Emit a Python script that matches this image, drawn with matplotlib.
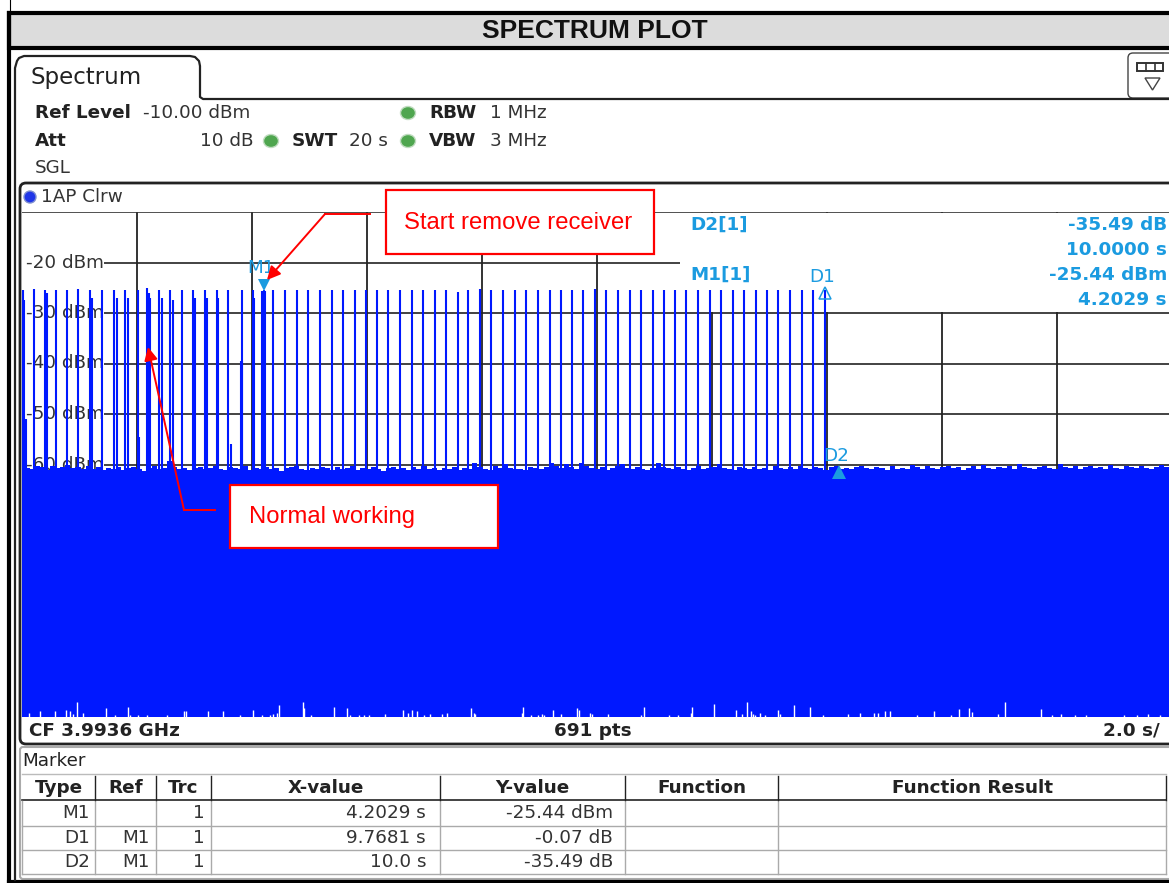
import matplotlib
matplotlib.use('Agg')
import matplotlib.pyplot as plt
from matplotlib.patches import Rectangle, FancyBboxPatch, Polygon, Circle, Ellipse

# spike times (s)
spike_times = [0.01, 0.21, 0.40, 0.59, 0.79, 0.98, 1.18, 1.39, 1.60, 1.79, 2.01, 2.18, 2.39, 2.57, 2.79, 2.98,
               3.18, 3.39, 3.59, 3.82, 4.01, 4.20, 4.37, 4.57, 4.78, 4.98, 5.18, 5.39, 5.58, 5.79, 5.99, 6.17,
               6.37, 6.57, 6.78, 6.97, 7.18, 7.37, 7.58, 7.76, 7.97, 8.16, 8.37, 8.57, 8.77, 8.97, 9.18, 9.38,
               9.56, 9.76, 9.97, 10.16, 10.37, 10.57, 10.77, 10.97, 11.17, 11.36, 11.55, 11.76, 11.96, 12.16,
               12.36, 12.56, 12.76, 12.96, 13.15, 13.35, 13.56, 13.76, 13.97]
spike_tops = [-25.4, -25.3, -25.5, -25.4, -25.4, -25.3, -25.4, -25.4, -25.4, -25.5, -25.4, -25.1, -25.4, -25.5,
              -25.4, -25.4, -25.4, -25.4, -25.5, -25.4, -25.4, -25.44, -25.4, -25.4, -25.4, -25.4, -25.4, -25.4,
              -25.5, -25.4, -25.4, -25.5, -25.4, -25.4, -25.4, -25.4, -25.4, -25.4, -25.9, -25.4, -25.3, -25.4,
              -25.4, -25.4, -25.5, -25.4, -25.4, -25.4, -25.4, -25.4, -25.3, -25.4, -25.4, -25.4, -25.4, -25.4,
              -25.4, -25.4, -25.4, -25.4, -25.4, -25.4, -25.4, -25.4, -25.4, -25.4, -25.4, -25.4, -25.4, -25.4,
              -25.51]
# shorter lines sitting next to the main spikes
extra_times = [0.03, 0.07, 0.43, 1.22, 1.65, 1.84, 2.04, 2.20, 2.23, 2.43, 2.63, 3.01, 3.22, 3.41, 3.63, 3.80,
               3.83, 4.03, 4.18, 4.23]
extra_tops = [-27.5, -51.0, -26.0, -27.0, -27.0, -27.0, -54.5, -26.0, -27.0, -27.0, -27.5, -27.0, -27.0, -27.0,
              -56.0, -39.5, -39.5, -27.0, -25.6, -25.6]

# top of the noise band, one value per 0.087 s
floor_top = [-60.0, -60.6, -60.9, -60.2, -60.4, -61.0, -60.3, -60.7, -60.5, -60.1, -60.6, -60.4, -60.8, -60.2,
             -60.9, -60.5, -61.1, -60.6, -60.8, -60.4, -61.0, -60.7, -60.5, -60.9, -61.2, -60.6, -60.3, -60.8,
             -60.7, -59.3, -60.5, -60.9, -60.6, -61.1, -60.7, -60.4, -60.9, -60.6, -60.2, -60.8, -61.0, -60.5,
             -60.7, -60.9, -60.3, -61.0, -60.6, -60.8, -60.4, -60.9, -60.6, -61.2, -60.7, -60.5, -60.2, -60.8,
             -61.0, -60.6, -60.9, -60.4, -60.7, -61.1, -60.5, -60.8, -60.6, -60.3, -61.0, -60.7, -60.9, -60.5,
             -60.8, -61.2, -60.6, -60.4, -60.9, -60.7, -61.0, -60.5, -60.8, -60.3, -60.9, -60.6, -61.1, -60.7,
             -60.8, -60.4, -61.0, -60.6, -60.9, -59.8, -60.5, -60.8, -61.0, -60.2, -60.7, -59.9, -60.6, -60.9,
             -60.8, -61.1, -60.4, -60.7, -60.9, -60.5, -59.8, -60.3, -60.7, -59.9, -60.4, -60.8, -59.7, -60.3,
             -60.6, -60.9, -60.5, -61.0, -60.7, -60.3, -59.9, -60.6, -60.8, -60.4, -60.9, -61.1, -60.6, -59.8,
             -60.4, -60.7, -60.9, -60.5, -60.8, -61.0, -60.6, -60.3, -60.9, -60.7, -60.4, -59.9, -60.6, -60.8,
             -61.0, -60.5, -60.7, -60.9, -60.4, -60.8, -60.6, -61.1, -60.3, -60.7, -60.9, -60.5, -60.8, -60.2,
             -60.6, -60.9, -60.4, -60.7, -61.0, -60.5, -60.3, -60.8, -60.6, -60.9, -60.5, -60.2, -60.7, -60.9,
             -60.4, -60.6, -61.0, -60.3, -60.8, -60.6, -60.9, -60.1, -60.5, -60.8, -60.3, -60.7, -60.9, -60.4,
             -60.2, -60.7, -60.5, -61.0, -60.6, -60.3, -60.8, -60.1, -60.6, -60.9, -60.4, -60.7, -60.2, -60.8,
             -59.9, -60.5, -60.7, -60.9, -60.4, -60.3, -60.6, -60.8, -59.9, -60.5, -60.7, -60.3, -60.9, -60.5,
             -60.2, -60.7, -60.4, -60.8, -60.1, -60.6, -60.9, -60.3, -60.5, -60.7, -60.2, -60.6, -60.8, -60.4,
             -60.1, -60.5, -60.7]
floor_x = [i * 20.0 / (len(floor_top) - 1) for i in range(len(floor_top))]

# white slivers at the bottom of the band: time (s), height above the -110 line (dB)
gap_times = [0.12, 0.32, 0.57, 0.76, 0.83, 0.89, 0.96, 1.06, 1.46, 1.62, 1.84, 1.88, 2.02, 2.17, 2.52, 2.81, 2.85,
             3.23, 3.50, 3.79, 4.01, 4.17, 4.31, 4.37, 4.43, 4.47, 4.88, 4.91, 5.02, 5.43, 5.66, 5.70, 5.86, 5.94,
             6.04, 6.31, 6.62, 6.71, 6.79, 6.87, 6.99, 7.10, 7.30, 7.39, 7.81, 7.86, 7.88, 8.69, 8.72, 8.85, 8.97,
             9.05, 9.08, 9.23, 9.37, 9.66, 9.69, 9.88, 9.91, 10.19, 10.76, 10.82, 11.25, 11.40, 11.63, 11.66, 12.03,
             12.41, 12.52, 12.61, 12.67, 12.71, 12.74, 12.84, 12.92, 13.14, 13.19, 13.43, 13.70, 13.93, 14.37, 14.57,
             14.82, 14.88, 15.01, 15.09, 15.57, 15.86, 16.16, 16.30, 16.47, 16.52, 16.97, 17.09, 17.72, 17.91, 18.07,
             18.31, 18.50, 19.17, 19.39, 19.58, 19.79]
gap_heights = [0.8, 1.2, 1.2, 1.4, 1.2, 0.6, 3.0, 0.8, 1.8, 0.3, 2.0, 0.4, 0.3, 0.3, 0.4, 1.2, 1.2,
               1.2, 1.2, 0.3, 1.4, 0.3, 0.4, 0.6, 0.8, 2.4, 3.0, 1.8, 0.3, 2.0, 1.8, 0.3, 0.3, 0.3,
               0.3, 0.6, 1.4, 0.8, 1.4, 1.2, 0.3, 0.6, 0.6, 0.8, 1.8, 0.8, 0.6, 0.8, 2.0, 0.3, 0.3,
               0.6, 0.3, 1.4, 0.6, 1.8, 1.4, 0.8, 0.6, 0.6, 0.3, 2.0, 0.3, 0.3, 0.8, 2.0, 2.6,
               1.4, 0.6, 3.0, 1.2, 0.6, 0.3, 0.8, 0.3, 1.4, 0.6, 2.4, 2.0, 0.3, 0.6, 0.8,
               0.8, 0.8, 1.2, 1.2, 0.3, 1.2, 0.3, 1.6, 1.8, 1.0, 0.6, 3.0, 1.6, 0.4, 0.6,
               0.4, 0.4, 0.3, 0.3, 0.6, 0.3]

x_ticks = [0, 2, 4, 6, 8, 10, 12, 14, 16, 18, 20]
y_ticks = [-20, -30, -40, -50, -60, -70, -80, -90, -100]
y_labels = ['-20 dBm', '-30 dBm', '-40 dBm', '-50 dBm', '-60 dBm']

marker_x = [4.2029, 13.971, 14.2029]
marker_y = [-25.44, -25.51, -60.93]
marker_names = ['M1', 'D1', 'D2']

table_cols = ['Type', 'Ref', 'Trc', 'X-value', 'Y-value', 'Function', 'Function Result']
table_types = ['M1', 'D1', 'D2']
table_refs = ['', 'M1', 'M1']
table_trcs = ['1', '1', '1']
table_xvals = ['4.2029 s', '9.7681 s', '10.0 s']
table_yvals = ['-25.44 dBm', '-0.07 dB', '-35.49 dB']

W, H = 1169, 883
BLUE = '#0018ff'
CYAN = '#1b9be0'
RED = '#ff0000'
DARK = '#222222'
FS = 13.2

fig = plt.figure(figsize=(W / 100, H / 100), dpi=100, facecolor='white')


def px_axes(z):
    a = fig.add_axes([0, 0, 1, 1], zorder=z)
    a.set_xlim(0, W)
    a.set_ylim(H, 0)
    a.axis('off')
    a.patch.set_alpha(0)
    return a


back = px_axes(1)
front = px_axes(3)

# page frame and title band
back.add_patch(Rectangle((9, 13), W, 35, fc='#dcdcdc', ec='black', lw=3))
back.plot([9, 9], [13, 883], color='black', lw=3)
back.plot([9.5, 9.5], [0, 12], color='black', lw=0.8)
back.plot([9, W], [881.5, 881.5], color='black', lw=3)
back.text(595, 31.5, 'SPECTRUM PLOT', ha='center', va='center', family='Liberation Sans',
          weight='bold', fontsize=19, color='#111111')

# tab
tab_x = [15, 15, 17, 19, 24, 190, 195, 199, 200, 200, 203, W]
tab_y = [880, 68, 61, 58, 56, 56, 57, 61, 66, 97, 99, 99]
back.plot(tab_x, tab_y, color='#222222', lw=1.6)
back.text(30, 77.5, 'Spectrum', ha='left', va='center', fontsize=16.5, color=DARK)
back.add_patch(FancyBboxPatch((1128, 53), 70, 45, boxstyle='round,pad=0,rounding_size=5', fc='white',
                              ec='#444444', lw=1))
back.add_patch(Rectangle((1137, 63), 26, 8, fc='white', ec='#333333', lw=1.4))
back.plot([1146, 1146], [63, 71], color='#333333', lw=1.2)
back.plot([1155, 1155], [63, 71], color='#333333', lw=1.2)
back.add_patch(Polygon([[1145, 78], [1160, 78], [1152.5, 90]], fc='white', ec='#444444', lw=1))

# settings block
for txt, x, y in [('Ref Level', 35, 113), ('Att', 35, 141), ('SWT', 292, 141), ('RBW', 429, 113), ('VBW', 429, 141)]:
    back.text(x, y, txt, ha='left', va='center', fontsize=FS, weight='bold', color=DARK)
for txt, x, y in [('-10.00 dBm', 143, 113), ('10 dB', 200, 141), ('20 s', 349, 141), ('1 MHz', 490, 113),
                  ('3 MHz', 490, 141), ('SGL', 35, 168)]:
    back.text(x, y, txt, ha='left', va='center', fontsize=FS, color='#333333')
for x, y in [(408, 113), (271, 141), (408, 141)]:
    back.add_patch(Ellipse((x, y), 15, 13, fc='#4fa64f', ec='#c0dcc0', lw=1))

# trace panel
back.add_patch(FancyBboxPatch((20, 183), 1200, 561, boxstyle='round,pad=0,rounding_size=6', fc='white',
                              ec='#222222', lw=2))
back.add_patch(Circle((30, 197), 6, fc='#1f35e8', ec='#7f8fd0', lw=1))
back.text(41, 196.5, '1AP Clrw', ha='left', va='center', fontsize=FS, color='#333333')
back.text(29, 730.5, 'CF 3.9936 GHz', ha='left', va='center', fontsize=FS, weight='bold', color=DARK)
back.text(593, 730.5, '691 pts', ha='center', va='center', fontsize=FS, weight='bold', color=DARK)
back.text(1160, 730.5, '2.0 s/', ha='right', va='center', fontsize=FS, weight='bold', color=DARK)

# spectrum axes, 10 div of 2 s and 10 div of 10 dB
ax = fig.add_axes([22 / W, 1 - 717 / H, 1150 / W, 505 / H], zorder=2)
ax.set_xlim(0, 20)
ax.set_ylim(-110, -10)
ax.patch.set_alpha(0)
for s in ax.spines.values():
    s.set_visible(False)
ax.set_xticks([])
ax.set_yticks([])
ax.plot([0, 20], [-10, -10], color='#333333', lw=1.2, zorder=2)
ax.vlines(x_ticks[1:-1], -110, -10, color='#111111', lw=1.2, zorder=1)
ax.hlines(y_ticks, 1.43, 20, color='#222222', lw=1.2, zorder=1)
# marker info box covers the grid at top right
ax.add_patch(Rectangle((11.45, -29.8), 9, 19.6, fc='white', ec='none', zorder=1.5))
for val, lab in zip(y_ticks, y_labels):
    ax.text(1.42, val, lab, ha='right', va='center', fontsize=FS, color='#333333', zorder=1.6)

ax.fill_between(floor_x, -110, floor_top, step='mid', color=BLUE, lw=0, zorder=3)
ax.vlines(spike_times, -62, spike_tops, color=BLUE, lw=1.5, zorder=3)
ax.vlines(extra_times, -62, extra_tops, color=BLUE, lw=1.5, zorder=3)
ax.vlines(gap_times, -110, [-110 + h for h in gap_heights], color='white', lw=1.0, zorder=4)

# markers
front.text(261, 268, marker_names[0], ha='center', va='center', fontsize=FS, color=CYAN)
front.text(822, 277, marker_names[1], ha='center', va='center', fontsize=FS, color=CYAN)
front.text(836, 456, marker_names[2], ha='center', va='center', fontsize=FS, color=CYAN)
ax.plot(marker_x[0], marker_y[0] + 1, marker='v', ms=9, color=CYAN, mew=0, clip_on=False, zorder=5)
ax.plot(marker_x[1], marker_y[1] - 0.6, marker='^', ms=9, mfc='none', mec=CYAN, mew=1.1, zorder=5)
ax.plot(marker_x[2], marker_y[2] - 0.6, marker='^', ms=10, color=CYAN, mew=0, zorder=5)

# marker readout
front.text(690, 225, 'D2[1]', ha='left', va='center', fontsize=FS, weight='bold', color=CYAN)
front.text(690, 275, 'M1[1]', ha='left', va='center', fontsize=FS, weight='bold', color=CYAN)
for txt, y in [('-35.49 dB', 225), ('10.0000 s', 250), ('-25.44 dBm', 275), ('4.2029 s', 300)]:
    front.text(1167, y, txt, ha='right', va='center', fontsize=FS, weight='bold', color=CYAN)

# red callouts
for x0, y0, x1, y1, txt, tx in [(386, 190, 654, 254, 'Start remove receiver', 404),
                                (230, 485, 498, 548, 'Normal working', 249)]:
    front.add_patch(Rectangle((x0, y0), x1 - x0, y1 - y0, fc='white', ec=RED, lw=1.6))
    front.text(tx, (y0 + y1) / 2 + 1, txt, ha='left', va='center', family='Liberation Sans',
               fontsize=17.2, color=RED)
front.plot([370, 325], [214, 214], color=RED, lw=1.4)
front.annotate('', xy=(267, 280), xytext=(325, 214),
               arrowprops=dict(arrowstyle='-|>', color=RED, lw=1.4, mutation_scale=20, shrinkA=0, shrinkB=0))
front.plot([215, 184], [510, 510], color=RED, lw=1.4)
front.annotate('', xy=(148, 347), xytext=(184, 510),
               arrowprops=dict(arrowstyle='-|>', color=RED, lw=1.4, mutation_scale=20, shrinkA=0, shrinkB=0))

# marker table
back.add_patch(FancyBboxPatch((20, 747), 1200, 132, boxstyle='round,pad=0,rounding_size=3', fc='white',
                              ec='#aaaaaa', lw=1.5))
back.text(22, 761, 'Marker', ha='left', va='center', fontsize=FS, color=DARK)
col_edges = [22, 95, 156, 211, 440, 625, 778, 1166]
row_y = [813, 838, 862]
row_lines = [826, 850, 874]
back.plot([22, 1166], [774, 774], color='#bbbbbb', lw=1)
back.plot([22, 1166], [800, 800], color='#222222', lw=1.2)
for y in row_lines:
    back.plot([22, 1166], [y, y], color='#aaaaaa', lw=1)
for x in col_edges:
    back.plot([x, x], [801, 874], color='#aaaaaa', lw=1)
for x in col_edges[1:]:
    back.plot([x, x], [776, 800], color='#222222', lw=1)
for i, name in enumerate(table_cols):
    back.text((col_edges[i] + col_edges[i + 1]) / 2, 788, name, ha='center', va='center', fontsize=FS,
              weight='bold', color=DARK)
for i, y in enumerate(row_y):
    back.text(col_edges[1] - 5, y, table_types[i], ha='right', va='center', fontsize=FS, color='#333333')
    back.text(col_edges[2] - 6, y, table_refs[i], ha='right', va='center', fontsize=FS, color='#333333')
    back.text(col_edges[3] - 6, y, table_trcs[i], ha='right', va='center', fontsize=FS, color='#333333')
    back.text(col_edges[4] - 14, y, table_xvals[i], ha='right', va='center', fontsize=FS, color='#333333')
    back.text(col_edges[5] - 12, y, table_yvals[i], ha='right', va='center', fontsize=FS, color='#333333')

fig.savefig('out.png', dpi=100)
